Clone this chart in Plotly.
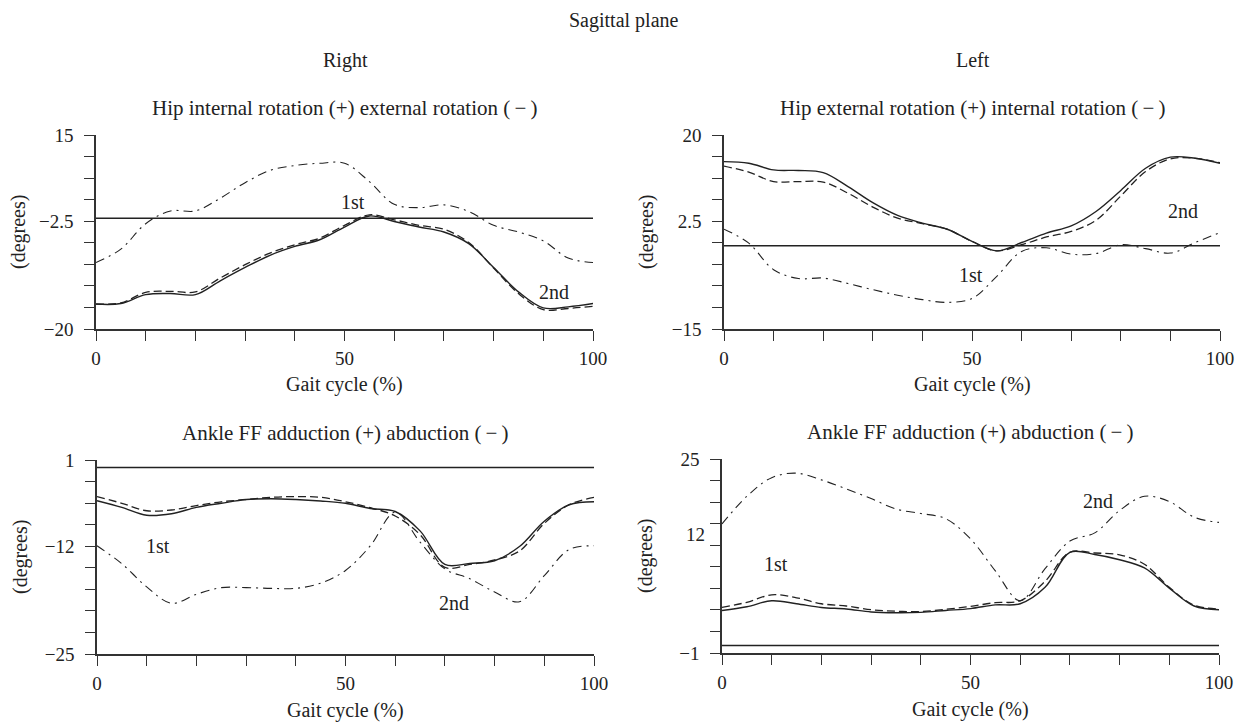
import plotly.graph_objects as go

# The page body has an 8px default margin, so the figure is drawn 8px in and
# sized to end exactly at the 1246x726 window edge.
WIN_W, WIN_H = 1246, 726
OFF = 8
W, H = WIN_W - OFF, WIN_H - OFF
FONT = "Liberation Serif"
INK = "#222222"

gait = [0, 5, 10, 15, 20, 25, 30, 35, 40, 45, 50, 55, 60, 65, 70, 75, 80, 85, 90, 95, 100]

# Panel 1: Right hip internal (+) / external (-) rotation
hipR_solid = [-15.5, -15.4, -13.8, -13.6, -13.8, -11.3, -8.9, -6.7, -5.1, -3.9, -1.6, 0.4,
              -0.6, -1.6, -2.5, -4.6, -8.9, -13.3, -16.2, -16.0, -15.4]
hipR_dash = [-15.5, -15.3, -13.4, -13.2, -13.3, -10.8, -8.4, -6.3, -4.8, -3.6, -1.3, 0.6,
             -0.3, -1.3, -2.0, -4.4, -9.0, -13.6, -16.5, -16.3, -15.9]
hipR_dashdot = [-8.0, -5.6, -1.0, 1.3, 1.3, 3.6, 6.4, 8.6, 9.5, 9.9, 9.9, 6.6,
                2.5, 1.9, 2.4, 1.2, -1.3, -2.5, -4.1, -7.2, -8.0]

# Panel 2: Left hip external (+) / internal (-) rotation
hipL_solid = [15.2, 14.9, 13.7, 13.6, 13.2, 10.7, 7.8, 5.5, 4.1, 3.0, 0.8, -0.9,
              0.6, 2.3, 3.6, 6.2, 10.0, 14.0, 16.0, 15.8, 14.9]
hipL_dash = [14.4, 13.3, 11.6, 11.6, 11.5, 9.5, 7.0, 5.0, 4.0, 3.0, 0.8, -0.9,
             0.2, 1.6, 2.6, 4.6, 9.0, 13.4, 15.7, 15.8, 15.0]
hipL_dashdot = [3.0, 0.5, -4.3, -5.9, -5.8, -6.8, -7.9, -8.9, -9.7, -10.2, -9.5, -5.5,
                -1.0, -0.35, -1.5, -1.4, 0.2, -0.5, -1.3, 0.6, 2.4]

# Panel 3: Right ankle FF adduction (+) / abduction (-)
ankR_solid = [-4.45, -5.35, -6.4, -6.2, -5.35, -4.8, -4.3, -4.2, -4.3, -4.5, -4.8, -5.5,
              -5.9, -8.5, -13.0, -12.85, -12.5, -10.6, -7.2, -5.0, -4.6]
ankR_dash = [-3.9, -4.8, -5.8, -5.7, -5.1, -4.6, -4.3, -4.0, -3.9, -4.0, -4.6, -5.4,
             -6.5, -9.0, -13.4, -13.0, -12.4, -11.2, -7.5, -5.0, -4.0]
ankR_dashdot = [-10.5, -12.9, -16.0, -18.2, -17.0, -16.1, -16.1, -16.2, -16.2, -15.5, -13.8, -10.5,
                -6.0, -10.0, -13.6, -14.9, -16.7, -18.0, -14.5, -11.0, -10.5]

# Panel 4: Left ankle FF adduction (+) / abduction (-)
ankL_solid = [4.7, 5.2, 6.0, 5.6, 5.1, 4.9, 4.5, 4.4, 4.45, 4.7, 4.95, 5.45,
              5.6, 7.8, 12.5, 12.2, 11.5, 10.4, 7.7, 5.3, 4.8]
ankL_dash = [5.1, 5.8, 6.8, 6.4, 5.6, 5.3, 4.8, 4.6, 4.55, 4.85, 5.25, 5.75,
             6.0, 8.6, 12.5, 12.4, 12.15, 10.9, 7.8, 5.4, 4.9]
ankL_dashdot = [16.3, 20.0, 22.5, 23.1, 22.2, 21.0, 19.7, 18.3, 17.7, 17.0, 14.3, 10.0,
                6.0, 10.3, 14.0, 15.1, 18.1, 20.0, 19.3, 17.2, 16.5]

reference = [0, 0]
ref_x = [0, 100]

y_ranges = [(-20, 15), (-15, 20), (-25, 1), (-1, 25)]
y_labels = [
    {0: "15", 4: "\u22122.5", 9: "\u221220"},
    {0: "20", 4: "2.5", 9: "\u221215"},
    {0: "1", 4: "\u221212", 9: "\u221225"},
    {0: "25", 9: "\u22121"},
]
panel_titles = [
    "Hip internal rotation (+) external rotation (\u2009\u2212\u2009)",
    "Hip external rotation (+) internal rotation (\u2009\u2212\u2009)",
    "Ankle FF adduction (+) abduction (\u2009\u2212\u2009)",
    "Ankle FF adduction (+) abduction (\u2009\u2212\u2009)",
]
series = [
    (hipR_solid, hipR_dash, hipR_dashdot),
    (hipL_solid, hipL_dash, hipL_dashdot),
    (ankR_solid, ankR_dash, ankR_dashdot),
    (ankL_solid, ankL_dash, ankL_dashdot),
]
first_labels = [(51.8, 3.0), (49.8, -5.3), (12.2, -10.5), (10.8, 10.9)]
second_labels = [(92.2, -13.3), (92.6, 6.35), (71.8, -18.1), (75.6, 19.4)]

# window-pixel boxes (left, right, top, bottom)
boxes = [(96, 593, 135, 329), (724, 1220, 135, 329), (97, 594, 460, 654), (722, 1219, 459, 653)]

TXT = 20
TTL = 21
TCK = 19


def fx(px):
    return (px - OFF) / W


def fy(py):
    return 1 - (py - OFF) / H


fig = go.Figure()
layout = dict(
    width=W, height=H, margin=dict(l=0, r=0, t=0, b=0, autoexpand=False),
    paper_bgcolor="white", plot_bgcolor="white", showlegend=False,
    font=dict(family=FONT, size=TXT, color=INK),
)
annotations = []

for i in range(4):
    n = "" if i == 0 else str(i + 1)
    xa, ya = "x" + n, "y" + n
    l, r, t, b = boxes[i]
    lo, hi = y_ranges[i]
    solid, dash, dashdot = series[i]
    fig.add_trace(go.Scatter(x=ref_x, y=reference, mode="lines", xaxis=xa, yaxis=ya,
                             line=dict(color=INK, width=1.5)))
    fig.add_trace(go.Scatter(x=gait, y=dashdot, mode="lines", xaxis=xa, yaxis=ya,
                             line=dict(color=INK, width=1.1, dash="9px,5px,2px,5px", shape="spline", smoothing=1.0)))
    fig.add_trace(go.Scatter(x=gait, y=dash, mode="lines", xaxis=xa, yaxis=ya,
                             line=dict(color=INK, width=1.3, dash="8px,4px", shape="spline", smoothing=1.0)))
    fig.add_trace(go.Scatter(x=gait, y=solid, mode="lines", xaxis=xa, yaxis=ya,
                             line=dict(color=INK, width=1.4, shape="spline", smoothing=1.0)))
    tv = [hi - k * (hi - lo) / 9 for k in range(10)]
    tt = [y_labels[i].get(k, "") for k in range(10)]
    layout["xaxis" + n] = dict(
        domain=[fx(l), fx(r)], anchor=ya, range=[0, 100], automargin=False,
        tickvals=list(range(0, 101, 10)),
        ticktext=["0" if v == 0 else "50" if v == 50 else "100" if v == 100 else "" for v in range(0, 101, 10)],
        ticks="outside", ticklen=10, tickwidth=1.4, tickcolor="#333",
        showline=True, linecolor="#333", linewidth=1.6, showgrid=False, zeroline=False,
        tickfont=dict(size=TCK), ticklabelstandoff=1, fixedrange=True,
    )
    layout["yaxis" + n] = dict(
        domain=[fy(b), fy(t)], anchor=xa, range=[lo, hi], automargin=False,
        tickvals=tv, ticktext=tt,
        ticks="outside", ticklen=10, tickwidth=1.4, tickcolor="#333",
        showline=True, linecolor="#333", linewidth=1.6, showgrid=False, zeroline=False,
        tickfont=dict(size=TCK), ticklabelstandoff=7, fixedrange=True,
    )
    cx = (l + r) / 2
    annotations.append(dict(text=panel_titles[i], x=fx(cx), y=fy(t - 27), xref="paper", yref="paper",
                            showarrow=False, xanchor="center", yanchor="middle", font=dict(size=TTL)))
    annotations.append(dict(text="Gait cycle (%)", x=fx(cx), y=fy(b + 56), xref="paper", yref="paper",
                            showarrow=False, xanchor="center", yanchor="middle"))
    annotations.append(dict(text="(degrees)", x=fx(l - 77), y=fy((t + b) / 2), xref="paper", yref="paper",
                            showarrow=False, xanchor="center", yanchor="middle", textangle=-90))
    annotations.append(dict(text="1st", x=first_labels[i][0], y=first_labels[i][1], xref=xa, yref=ya,
                            showarrow=False))
    annotations.append(dict(text="2nd", x=second_labels[i][0], y=second_labels[i][1], xref=xa, yref=ya,
                            showarrow=False))

# off-tick "12" label on the last panel
lo, hi = y_ranges[3]
annotations.append(dict(text="12", x=fx(722 - 15), y=hi - 3.5 * (hi - lo) / 9, xref="paper", yref="y4",
                        showarrow=False, xanchor="right", yanchor="middle", font=dict(size=TCK)))

annotations.append(dict(text="Sagittal plane", x=fx(624), y=1, xref="paper", yref="paper",
                        showarrow=False, xanchor="center", yanchor="top", borderpad=0))
annotations.append(dict(text="Right", x=fx(345), y=fy(60), xref="paper", yref="paper",
                        showarrow=False, xanchor="center", yanchor="middle"))
annotations.append(dict(text="Left", x=fx(973), y=fy(60), xref="paper", yref="paper",
                        showarrow=False, xanchor="center", yanchor="middle"))

layout["annotations"] = annotations
fig.update_layout(**layout)
fig.write_html("out.html")
